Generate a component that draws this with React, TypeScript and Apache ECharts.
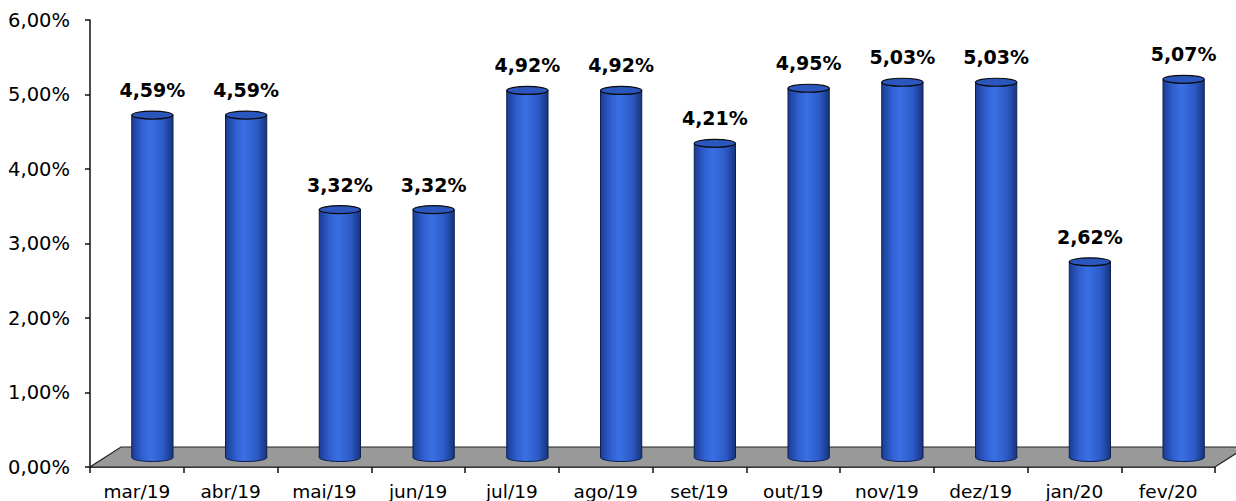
import React, { useEffect, useRef } from "react";
import * as echarts from "echarts";

const categories = ["mar/19", "abr/19", "mai/19", "jun/19", "jul/19", "ago/19", "set/19", "out/19", "nov/19", "dez/19", "jan/20", "fev/20"];
const values = [4.59, 4.59, 3.32, 3.32, 4.92, 4.92, 4.21, 4.95, 5.03, 5.03, 2.62, 5.07];
const yMin = 0;
const yMax = 6;
const yInterval = 1;

const DEPTH_X = 31;
const DEPTH_Y = 20;
const FONT = "'DejaVu Sans', 'Liberation Sans', Arial, sans-serif";

const fmt = (v: number) => v.toFixed(2).replace(".", ",") + "%";

export default function App() {
  const ref = useRef<HTMLDivElement>(null);
  useEffect(() => {
    if (!ref.current) return;
    const chart = echarts.init(ref.current, undefined, { renderer: "svg" });
    const option: any = {
      animation: false,
      backgroundColor: "#ffffff",
      grid: { left: 90, right: 21, top: 20, bottom: 34, containLabel: false },
      xAxis: {
        type: "category",
        data: categories,
        boundaryGap: true,
        axisLine: { show: true, lineStyle: { color: "#111", width: 1.5 } },
        axisTick: { show: true, inside: false, length: 6, alignWithLabel: false, lineStyle: { color: "#111", width: 1.5 } },
        axisLabel: { color: "#000", fontSize: 18.5, fontFamily: FONT, margin: 15, interval: 0 },
        splitLine: { show: false },
      },
      yAxis: {
        type: "value",
        min: yMin,
        max: yMax,
        interval: yInterval,
        axisLine: { show: true, lineStyle: { color: "#111", width: 1.5 } },
        axisTick: { show: true, inside: false, length: 5, lineStyle: { color: "#111", width: 1.5 } },
        axisLabel: { color: "#000", fontSize: 19.5, fontFamily: FONT, margin: 20, formatter: (v: number) => fmt(v) },
        splitLine: { show: false },
      },
      series: [
        {
          type: "custom",
          name: "floor",
          silent: true,
          z: 1,
          data: [[0, 0]],
          encode: { x: 0, y: 1 },
          renderItem: (params: any, api: any) => {
            const cs = params.coordSys;
            const y0 = api.coord([0, 0])[1];
            const x0 = cs.x;
            const x1 = cs.x + cs.width;
            return {
              type: "polygon",
              shape: {
                points: [
                  [x0, y0],
                  [x1, y0],
                  [x1 + DEPTH_X, y0 - DEPTH_Y],
                  [x0 + DEPTH_X, y0 - DEPTH_Y],
                ],
              },
              style: { fill: "#999999", stroke: "#222", lineWidth: 1.2 },
            };
          },
        },
        {
          type: "custom",
          name: "values",
          z: 3,
          data: values.map((v, i) => [i, v]),
          encode: { x: 0, y: 1 },
          renderItem: (params: any, api: any) => {
            const idx = api.value(0);
            const v = api.value(1);
            const top = api.coord([idx, v]);
            const base = api.coord([idx, 0]);
            const band = api.size([1, 0])[0];
            const w = band * 0.44;
            const cx = top[0] + DEPTH_X / 2;
            const topY = top[1] - DEPTH_Y / 2;
            const botY = base[1] - DEPTH_Y / 2 + 0.5;
            const rx = w / 2;
            const ry = 4;
            const bodyFill = new echarts.graphic.LinearGradient(0, 0, 1, 0, [
              { offset: 0, color: "#1b3c93" },
              { offset: 0.25, color: "#2f60d0" },
              { offset: 0.45, color: "#3a6fe2" },
              { offset: 0.75, color: "#2d5cc8" },
              { offset: 1, color: "#17347f" },
            ]);
            return {
              type: "group",
              children: [
                {
                  type: "ellipse",
                  shape: { cx, cy: botY, rx, ry },
                  style: { fill: bodyFill, stroke: "#0d1f4d", lineWidth: 1 },
                },
                {
                  type: "rect",
                  shape: { x: cx - rx, y: topY, width: w, height: botY - topY },
                  style: { fill: bodyFill },
                },
                {
                  type: "line",
                  shape: { x1: cx - rx, y1: topY, x2: cx - rx, y2: botY },
                  style: { stroke: "#0d1f4d", lineWidth: 1 },
                },
                {
                  type: "line",
                  shape: { x1: cx + rx, y1: topY, x2: cx + rx, y2: botY },
                  style: { stroke: "#0d1f4d", lineWidth: 1 },
                },
                {
                  type: "ellipse",
                  shape: { cx, cy: topY, rx, ry },
                  style: { fill: "#2b56bd", stroke: "#0a0a0a", lineWidth: 1.2 },
                },
                {
                  type: "text",
                  x: cx,
                  y: topY - 25,
                  style: {
                    text: fmt(v),
                    fill: "#000",
                    font: "bold 19px " + FONT,
                    textAlign: "center",
                    textVerticalAlign: "middle",
                  },
                },
              ],
            };
          },
        },
      ],
    };
    chart.setOption(option);
    return () => chart.dispose();
  }, []);
  return (
    <div
      ref={ref}
      style={{ position: "absolute", left: 0, top: 0, width: 1236, height: 501 }}
    />
  );
}
